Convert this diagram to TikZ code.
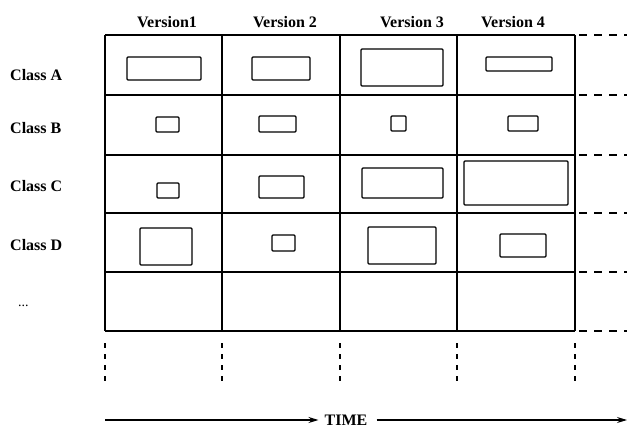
\documentclass[tikz,border=0pt]{standalone}
\usepackage{fontspec}
\setmainfont{Liberation Serif}
\usetikzlibrary{arrows.meta}
\begin{document}
\begin{tikzpicture}[x=1pt,y=-1pt,
  gridline/.style={line width=1.4pt},
  ext/.style={line width=1.1pt, dash pattern=on 8pt off 7pt},
  down/.style={line width=1.2pt, dash pattern=on 5pt off 6pt},
  vbox/.style={draw, line width=1.4pt, rounded corners=1pt, inner sep=0pt},
  lbl/.style={font=\fontsize{16}{18}\selectfont\bfseries, inner sep=0pt},
  timearrow/.style={line width=1.1pt, -{Stealth[length=10pt,width=6pt]}}]
\useasboundingbox (0,0) rectangle (627,428);
% grid
\foreach \x/\n in {105/0,222/1,340/2,457/3,575/4}{
  \coordinate (ct\n) at (\x,35);
  \coordinate (cb\n) at (\x,331);
  \coordinate (dt\n) at (\x,343);
  \coordinate (db\n) at (\x,386);
}
\foreach \y/\n in {35/0,95/1,155/2,213/3,272/4,331/5}{
  \coordinate (rl\n) at (105,\y);
  \coordinate (rr\n) at (575,\y);
  \coordinate (el\n) at (579,\y);
  \coordinate (er\n) at (627,\y);
}
\foreach \n in {0,...,4}{ \draw[gridline] (ct\n) -- (cb\n); \draw[down] (dt\n) -- (db\n); }
\foreach \n in {0,...,5}{ \draw[gridline] (rl\n) -- (rr\n); \draw[ext] (el\n) -- (er\n); }
% headers
\node[lbl] (v1) at (167,22) {Version1};
\node[lbl] (v2) at (285,22) {Version 2};
\node[lbl] (v3) at (412,22) {Version 3};
\node[lbl] (v4) at (513,22) {Version 4};
\node[lbl,anchor=west] (ca) at (10,75) {Class A};
\node[lbl,anchor=west] (cbl) at (10,128) {Class B};
\node[lbl,anchor=west] (cc) at (10,186) {Class C};
\node[lbl,anchor=west] (cd) at (10,245) {Class D};
\node[lbl,anchor=west,font=\fontsize{14}{16}\selectfont] (cdots) at (18,306) {...};
% version boxes
\node[vbox,minimum width=74pt,minimum height=23pt] (a1) at (164,68.5) {};
\node[vbox,minimum width=58pt,minimum height=23pt] (a2) at (281,68.5) {};
\node[vbox,minimum width=82pt,minimum height=37pt] (a3) at (402,67.5) {};
\node[vbox,minimum width=66pt,minimum height=14pt] (a4) at (519,64) {};
\node[vbox,minimum width=23pt,minimum height=15pt] (b1) at (167.5,124.5) {};
\node[vbox,minimum width=37pt,minimum height=16pt] (b2) at (277.5,124) {};
\node[vbox,minimum width=15pt,minimum height=15pt] (b3) at (398.5,123.5) {};
\node[vbox,minimum width=30pt,minimum height=15pt] (b4) at (523,123.5) {};
\node[vbox,minimum width=22pt,minimum height=15pt] (c1) at (168,190.5) {};
\node[vbox,minimum width=45pt,minimum height=22pt] (c2) at (281.5,187) {};
\node[vbox,minimum width=81pt,minimum height=30pt] (c3) at (402.5,183) {};
\node[vbox,minimum width=104pt,minimum height=44pt] (c4) at (516,183) {};
\node[vbox,minimum width=52pt,minimum height=37pt] (d1) at (166,246.5) {};
\node[vbox,minimum width=23pt,minimum height=16pt] (d2) at (283.5,243) {};
\node[vbox,minimum width=68pt,minimum height=37pt] (d3) at (402,245.5) {};
\node[vbox,minimum width=46pt,minimum height=23pt] (d4) at (523,245.5) {};
% time axis
\node[lbl] (time) at (346,420) {TIME};
\coordinate (tstart) at (105,420);
\coordinate (tend) at (627,420);
\draw[timearrow] (tstart) -- ([xshift=-6pt]time.west);
\draw[timearrow] ([xshift=9pt]time.east) -- (tend);
\end{tikzpicture}
\end{document}
